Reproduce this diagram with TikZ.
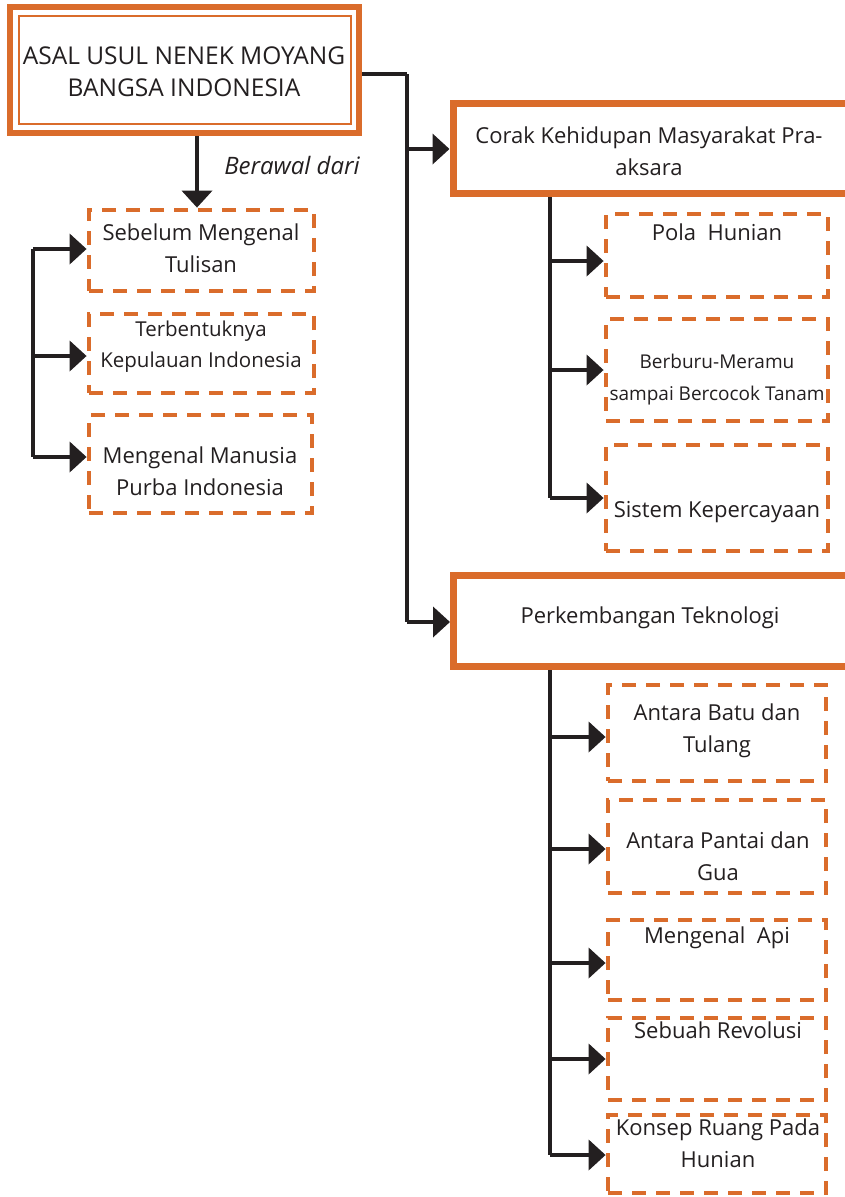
\documentclass[tikz,border=0pt]{standalone}
\usepackage{fontspec}
\setmainfont{Open Sans}
\usetikzlibrary{arrows.meta}
\definecolor{org}{RGB}{218,108,43}
\definecolor{ink}{RGB}{35,31,32}
\begin{document}
\begin{tikzpicture}[x=1pt,y=-1pt,
  conn/.style={draw=ink,line width=4pt},
  arr/.style={conn,-{Triangle[length=17pt,width=30pt]}},
  dbox/.style={draw=org,line width=4.8pt,dash pattern=on 14pt off 10pt,rectangle,inner sep=0pt},
  mbox/.style={draw=org,line width=7pt,fill=white,rectangle,inner sep=0pt},
  txt/.style={text=ink,align=center,inner sep=0pt,anchor=base,font=\fontsize{22}{31.5}\selectfont},
  smalltxt/.style={txt,font=\fontsize{19}{32}\selectfont}]
\path[use as bounding box] (0,0) rectangle (845,1197);
\clip (0,0) rectangle (845,1197);

% title
\node[mbox,line width=6pt,minimum width=349pt,minimum height=126pt] (title) at (184.5,70) {};
\node[draw=org,line width=1.6pt,rectangle,minimum width=332pt,minimum height=108pt,inner sep=0pt] (titlein) at (185,70) {};
\node[txt,font=\fontsize{24.5}{32}\selectfont] (titlet) at (184,96) {ASAL USUL NENEK MOYANG\\BANGSA INDONESIA};

% left boxes
\node[dbox,minimum width=225pt,minimum height=81pt] (l1) at (201.5,250.5) {};
\node[dbox,minimum width=225pt,minimum height=79pt] (l2) at (201.5,353.5) {};
\node[dbox,minimum width=223pt,minimum height=98pt] (l3) at (200.5,464) {};
\node[txt] (l1t) at (201,272) {Sebelum Mengenal\\Tulisan};
\node[txt,font=\fontsize{20.5}{31}\selectfont] (l2t) at (201,367) {Terbentuknya\\Kepulauan Indonesia};
\node[txt] (l3t) at (200,495) {Mengenal Manusia\\Purba Indonesia};

% down arrow and label
\coordinate (d0) at (197,136);
\draw[arr] (d0) -- (d0 |- l1.north);
\node[txt,font=\fontsize{24}{30}\selectfont\itshape] (berawal) at (292,174) {Berawal dari};

% left bracket
\coordinate (la) at (33,249);
\coordinate (lb) at (33,356);
\coordinate (lc) at (33,457);
\draw[conn] (la) -- (lc);
\draw[arr] (la) -- (la -| l1.west);
\draw[arr] (lb) -- (lb -| l2.west);
\draw[arr] (lc) -- (lc -| l3.west);

% main boxes on right
\node[mbox,minimum width=407pt,minimum height=90pt] (corak) at (656.5,148) {};
\node[txt] (corakt) at (649,175) {Corak Kehidupan Masyarakat Pra-\\aksara};
\node[mbox,minimum width=407pt,minimum height=91pt] (perk) at (657,621) {};
\node[txt] (perkt) at (650,623) {Perkembangan Teknologi};

% main trunk
\coordinate (j1) at (407,74);
\coordinate (jc) at (407,149);
\coordinate (jp) at (407,622);
\draw[conn] (j1 -| title.east) -- (j1);
\draw[conn] (j1) -- (jp);
\draw[arr] (jc) -- (jc -| corak.west);
\draw[arr] (jp) -- (jp -| perk.west);

% corak children
\node[dbox,minimum width=222pt,minimum height=83pt] (pola) at (717,255.5) {};
\node[dbox,minimum width=222pt,minimum height=102pt] (berburu) at (717,370) {};
\node[dbox,minimum width=222pt,minimum height=106pt] (sistem) at (717,498) {};
\node[txt] (polat) at (717,240) {Pola\ \ Hunian};
\node[smalltxt] (berburut) at (717,400) {Berburu-Meramu\\sampai Bercocok Tanam};
\node[txt] (sistemt) at (717,517) {Sistem Kepercayaan};

\coordinate (c0) at (550,197);
\coordinate (ca) at (550,261);
\coordinate (cb) at (550,370);
\coordinate (cc) at (550,498);
\draw[conn] (c0) -- (cc);
\draw[arr] (ca) -- (ca -| pola.west);
\draw[arr] (cb) -- (cb -| berburu.west);
\draw[arr] (cc) -- (cc -| sistem.west);

% perkembangan children
\node[dbox,minimum width=218pt,minimum height=96pt] (batu) at (717,733) {};
\node[dbox,minimum width=218pt,minimum height=93pt] (pantai) at (717,846.5) {};
\node[dbox,minimum width=218pt,minimum height=80pt] (api) at (717,960) {};
\node[dbox,minimum width=218pt,minimum height=82pt] (revolusi) at (717,1059) {};
\node[dbox,minimum width=218pt,minimum height=78pt] (konsep) at (717,1154) {};
\node[txt] (batut) at (717,752) {Antara Batu dan\\Tulang};
\node[txt] (pantait) at (718,880) {Antara Pantai dan\\Gua};
\node[txt] (apit) at (717,943) {Mengenal\ \ Api};
\node[txt] (revolusit) at (718,1038) {Sebuah Revolusi};
\node[txt] (konsept) at (718,1167) {Konsep Ruang Pada\\Hunian};

\coordinate (p0) at (550,670);
\coordinate (pa) at (550,737);
\coordinate (pb) at (550,849);
\coordinate (pc) at (550,963);
\coordinate (pd) at (550,1059);
\coordinate (pe) at (550,1155);
\draw[conn] (p0) -- (pe);
\draw[arr] (pa) -- (pa -| batu.west);
\draw[arr] (pb) -- (pb -| pantai.west);
\draw[arr] (pc) -- (pc -| api.west);
\draw[arr] (pd) -- (pd -| revolusi.west);
\draw[arr] (pe) -- (pe -| konsep.west);
\end{tikzpicture}
\end{document}
